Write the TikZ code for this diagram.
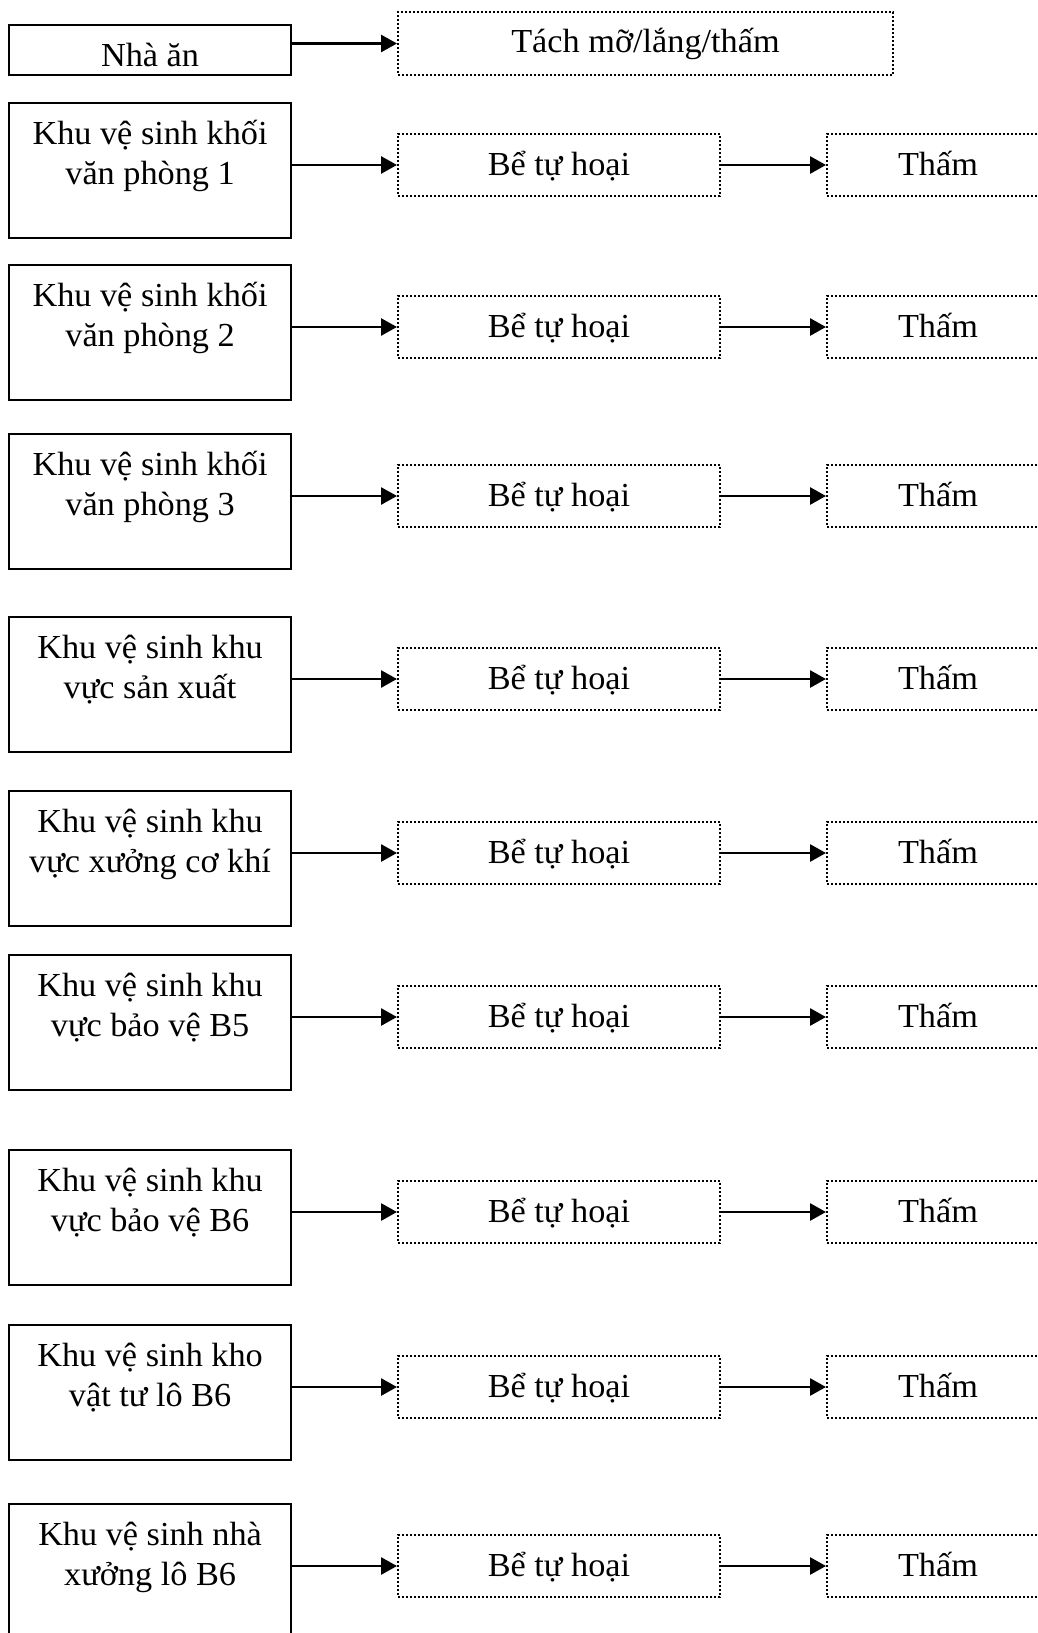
\documentclass[tikz,border=0pt]{standalone}
\usepackage{fontspec}
\setmainfont{Liberation Serif}[FakeStretch=1.02]
\usetikzlibrary{arrows.meta}

% top-aligned cell text: first baseline 20.5pt below the box top
\newcommand\celltext[3]{\parbox[c][#1][t]{#2}{\centering\rule{0pt}{20.5pt}#3}}

\tikzset{
  srcbox/.style={draw, line width=1.1pt, inner sep=0pt, anchor=north west},
  tankbox/.style={draw, line width=1pt, dash pattern=on 1pt off 1pt,
                  inner sep=0pt, anchor=north west},
  flow/.style={line width=1.4pt, -{Triangle[length=8pt,width=8.5pt]}},
}

\begin{document}
\begin{tikzpicture}[x=0.5pt, y=-0.5pt, font=\fontsize{16.8pt}{20pt}\selectfont]
  \useasboundingbox (0,0) rectangle (1038,1633);

  % kitchen line
  \node[srcbox] (kitchen) at (8,24) {\celltext{25pt}{141pt}{Nhà ăn}};
  \node[tankbox] (grease) at (397,11) {\celltext{31.5pt}{247.5pt}{Tách mỡ/lắng/thấm}};
  \draw[flow] (grease.west -| kitchen.east) -- (grease.west);

  % toilet blocks -> septic tank -> soakage
  \foreach \t/\a/\b [count=\i] in {
      102/Khu vệ sinh khối/văn phòng 1,
      264/Khu vệ sinh khối/văn phòng 2,
      433/Khu vệ sinh khối/văn phòng 3,
      616/Khu vệ sinh khu/vực sản xuất,
      790/Khu vệ sinh khu/vực xưởng cơ khí,
      954/Khu vệ sinh khu/vực bảo vệ B5,
      1149/Khu vệ sinh khu/vực bảo vệ B6,
      1324/Khu vệ sinh kho/vật tư lô B6,
      1503/Khu vệ sinh nhà/xưởng lô B6}{
    \node[srcbox] (src\i) at (8,\t) {\celltext{67.5pt}{141pt}{\a\\\b}};
    \node[tankbox] (tank\i) at (397,\t+31) {\celltext{31pt}{161pt}{Bể tự hoại}};
    \node[tankbox] (soak\i) at (826,\t+31) {\celltext{31pt}{111pt}{Thấm}};
    \draw[flow] (tank\i.west -| src\i.east) -- (tank\i.west);
    \draw[flow] (tank\i.east) -- (soak\i.west);
  }
\end{tikzpicture}
\end{document}
